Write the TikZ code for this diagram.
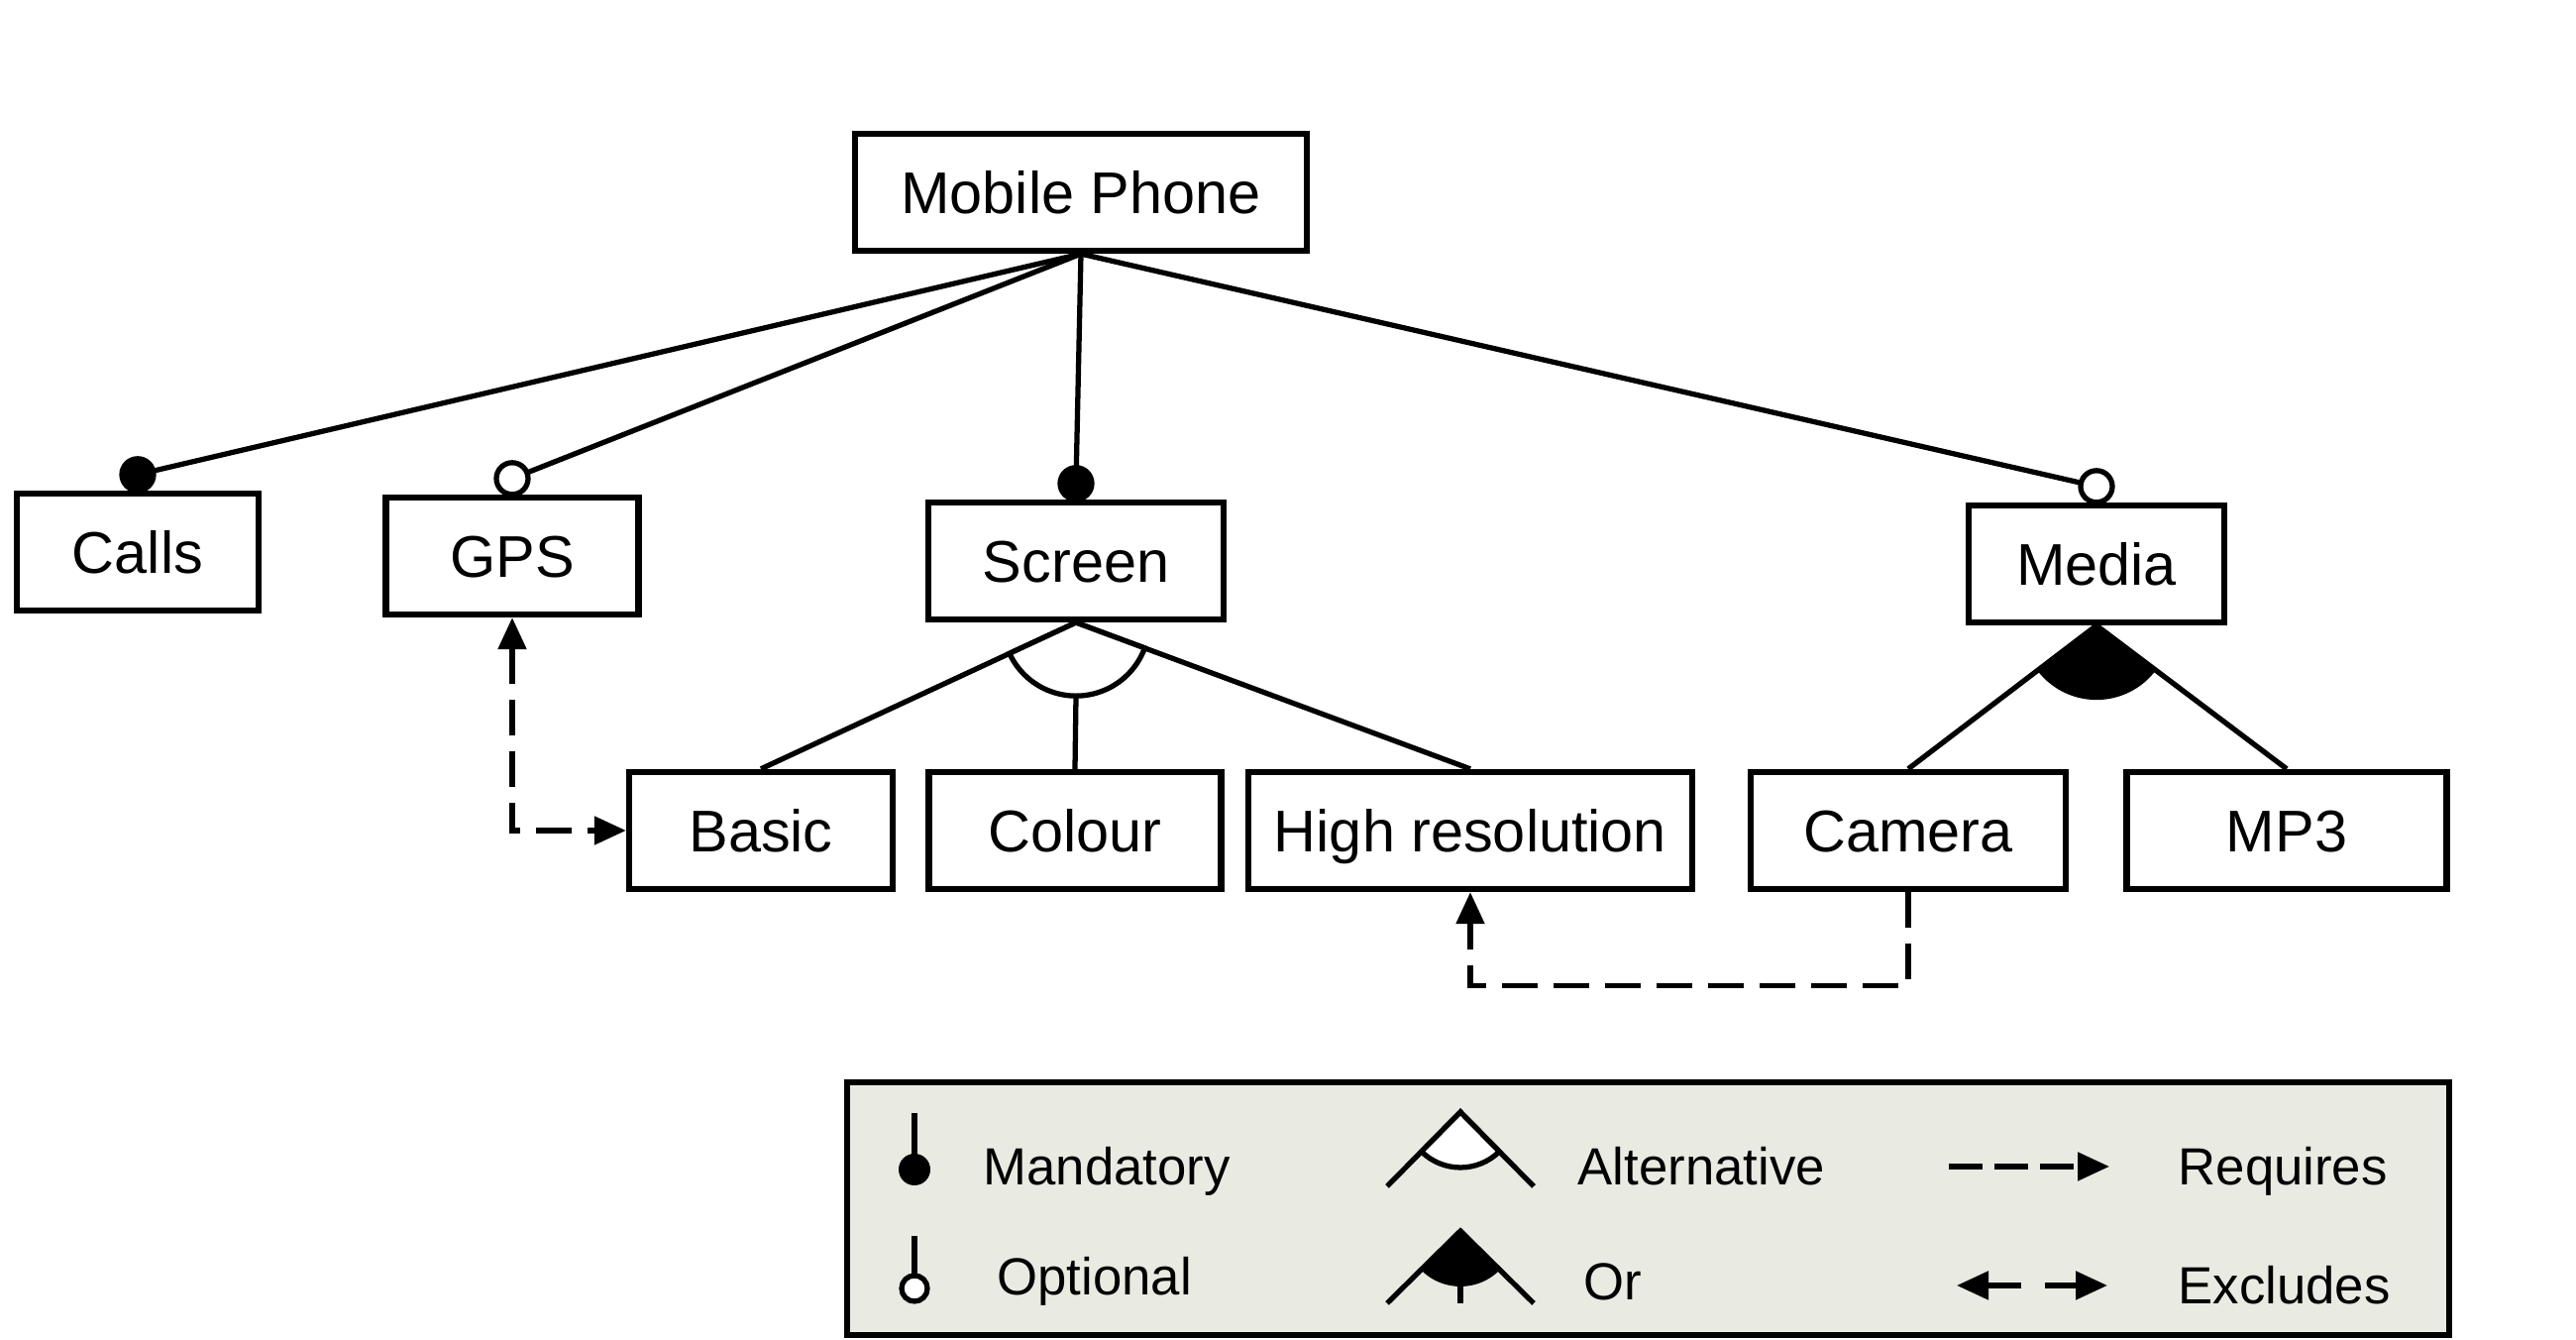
\documentclass[tikz,border=0pt]{standalone}
\usepackage{fontspec}
\setmainfont{Liberation Sans}
\usetikzlibrary{arrows.meta,calc}
\definecolor{legbg}{RGB}{233,235,226}

\begin{document}
\begin{tikzpicture}[line width=1.5pt,>={Triangle[length=3.2mm,width=2.8mm]},
  feat/.style={draw,line width=1.8pt,minimum height=1.18cm,inner sep=0pt,text height=12.1pt,text depth=0pt,font=\fontsize{16.9}{20}\selectfont},
  req/.style={dash pattern=on 3.6mm off 1.6mm},
  lab/.style={anchor=west,inner sep=0pt,text height=10.7pt,text depth=0pt,font=\fontsize{15}{18}\selectfont}]
\useasboundingbox (0,0) rectangle (26,13.52);
% features
\node[feat,minimum width=4.56cm] (phone) at (10.91,11.58) {Mobile Phone};
\node[feat,minimum width=2.44cm] (calls) at (1.39,7.95) {Calls};
\node[feat,minimum width=2.55cm] (gps) at (5.17,7.91) {GPS};
\node[feat,minimum width=2.98cm] (screen) at (10.86,7.86) {Screen};
\node[feat,minimum width=2.58cm] (media) at (21.16,7.83) {Media};
\node[feat,minimum width=2.66cm] (basic) at (7.68,5.14) {Basic};
\node[feat,minimum width=2.95cm] (colour) at (10.85,5.14) {Colour};
\node[feat,minimum width=4.48cm] (hires) at (14.84,5.14) {High resolution};
\node[feat,minimum width=3.18cm] (camera) at (19.26,5.14) {Camera};
\node[feat,minimum width=3.23cm] (mp3) at (23.08,5.14) {MP3};
% mandatory / optional
\foreach \f/\c in {calls/black,gps/white,screen/black,media/white}{
  \coordinate (\f top) at ($(\f.north)+(0,0.16)$);
  \draw (phone.south) -- (\f top);
  \draw[fill=\c] (\f top) circle (0.16);}
% alternative
\draw (screen.south) -- (basic.north) (screen.south) -- (hires.north);
\draw[fill=white] let \p1=($(basic.north)-(screen.south)$),\p2=($(hires.north)-(screen.south)$),
  \n1={atan2(\y1,\x1)},\n2={atan2(\y2,\x2)} in
  (screen.south) -- ++(\n1:0.74) arc[start angle=\n1,end angle=\n2,radius=0.74] -- cycle;
\draw ($(screen.south)+(0,-0.74)$) -- (colour.north);
% or
\draw (media.south) -- (camera.north) (media.south) -- (mp3.north);
\fill let \p1=($(camera.north)-(media.south)$),\p2=($(mp3.north)-(media.south)$),
  \n1={atan2(\y1,\x1)},\n2={atan2(\y2,\x2)} in
  (media.south) -- ++(\n1:0.75) arc[start angle=\n1,end angle=\n2,radius=0.75] -- cycle;
% requires
\draw[req,<->] (gps.south) |- (basic.west);
\draw[req,->] (camera.south) -- ++(0,-0.94) -| (hires.south);
% legend
\draw[line width=1.8pt,fill=legbg] (8.55,0.05) rectangle (24.72,2.60);
\draw (9.23,2.29) -- (9.23,1.72);
\fill (9.23,1.72) circle (0.16);
\node[lab] (lmand) at (9.90,1.75) {Mandatory};
\draw (9.23,1.05) -- (9.23,0.65);
\draw[fill=white] (9.23,0.52) circle (0.13);
\node[lab] (lopt) at (10.04,0.64) {Optional};
\draw (14.00,1.55) -- (14.74,2.30) -- (15.48,1.55);
\draw[fill=white] (14.74,2.30) -- ++(225.4:0.56) arc[start angle=225.4,end angle=314.6,radius=0.56] -- cycle;
\node[lab] (lalt) at (15.90,1.75) {Alternative};
\draw (14.00,0.37) -- (14.74,1.10) -- (15.48,0.37);
\fill (14.74,1.10) -- ++(225.4:0.56) arc[start angle=225.4,end angle=314.6,radius=0.56] -- cycle;
\draw (14.74,1.10) -- (14.74,0.37);
\node[lab] (lor) at (15.96,0.59) {Or};
\draw[dash pattern=on 3.4mm off 1.2mm,->] (19.67,1.75) -- (21.29,1.75);
\node[lab] (lreq) at (21.96,1.75) {Requires};
\draw[->] (20.40,0.55) -- (19.75,0.55);
\draw[->] (20.64,0.55) -- (21.27,0.55);
\node[lab] (lexc) at (21.96,0.55) {Excludes};
\end{tikzpicture}
\end{document}
